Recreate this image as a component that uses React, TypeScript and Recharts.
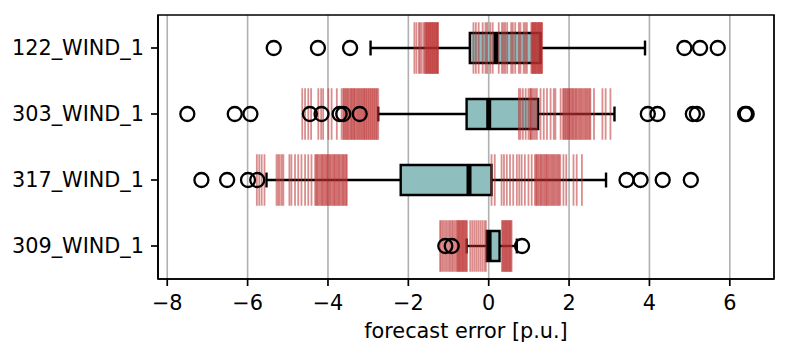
import { CartesianGrid, ReferenceArea, ReferenceLine, Scatter, ScatterChart, XAxis, YAxis } from "recharts"

const CATEGORIES = ["122_WIND_1", "303_WIND_1", "317_WIND_1", "309_WIND_1"]
const WHISKER_LO = [-2.94, -2.75, -5.53, -0.55]
const Q1 = [-0.47, -0.55, -2.19, -0.05]
const MEDIAN = [0.18, 0.0, -0.49, 0.01]
const Q3 = [1.29, 1.23, 0.07, 0.27]
const WHISKER_HI = [3.89, 3.13, 2.92, 0.7]

const OUTLIERS_122 = [-5.35, -4.25, -3.45, 4.87, 5.26, 5.7]
const OUTLIERS_303 = [-7.5, -6.32, -5.93, -4.45, -4.16, -3.71, -3.62, -3.21, 3.96, 4.2, 5.08, 5.18, 6.38, 6.42]
const OUTLIERS_317 = [-7.15, -6.51, -5.99, -5.76, 3.43, 3.78, 4.33, 5.03]
const OUTLIERS_309 = [-1.08, -0.92, 0.83]

const RUG_122 = [
  -1.85, -1.8, -1.74, -1.71, -1.67, -1.62, -1.59, -1.57, -1.55, -1.54, -1.52, -1.5, -1.49, -1.47, -1.45, -1.44,
  -1.42, -1.4, -1.39, -1.37, -1.35, -1.34, -1.32, -1.3, -1.29, -1.27, -1.26,
  -0.38, -0.32, -0.25, -0.15, -0.08, -0.04, 0.04, 0.1, 0.25, 0.33, 0.37, 0.41, 0.46, 0.56, 0.6, 0.66, 0.75, 0.79,
  0.87, 0.91, 0.95, 1.06, 1.08, 1.1, 1.11, 1.13, 1.15, 1.16, 1.18, 1.2, 1.22, 1.23, 1.25, 1.27, 1.28, 1.3, 1.32, 1.33,
]
const RUG_303 = [
  -4.64, -4.57, -4.49, -4.42, -4.24, -4.17, -4.12, -3.99, -3.91, -3.78, -3.66,
  -3.62, -3.6, -3.57, -3.55, -3.52, -3.5, -3.47, -3.44, -3.42, -3.4, -3.37, -3.35, -3.33, -3.3, -3.27, -3.25,
  -3.22, -3.2, -3.17, -3.15, -3.12, -3.1, -3.08, -3.05, -3.03, -3.0, -2.98, -2.95, -2.93, -2.9, -2.88, -2.85,
  -2.83, -2.8, -2.78, -2.75,
  0.75, 0.79, 0.85, 0.92, 0.99, 1.03, 1.05, 1.08, 1.12, 1.16, 1.2, 1.29, 1.37, 1.45, 1.54, 1.62, 1.66, 1.79,
  1.85, 1.87, 1.9, 1.92, 1.95, 1.97, 2.0, 2.02, 2.05, 2.08, 2.1, 2.13, 2.16, 2.18, 2.21, 2.24, 2.27, 2.3, 2.33,
  2.36, 2.39, 2.42, 2.45, 2.48, 2.51, 2.53, 2.62, 2.83, 2.91, 3.03,
]
const RUG_317 = [
  -5.77, -5.71, -5.65, -5.58, -5.28, -5.24, -5.2, -5.15, -5.11, -4.96, -4.91, -4.82, -4.74, -4.66, -4.57, -4.49,
  -4.41, -4.32, -4.29, -4.27, -4.24, -4.21, -4.18, -4.15, -4.13, -4.1, -4.07, -4.04, -4.02, -3.99, -3.96, -3.94,
  -3.91, -3.88, -3.85, -3.83, -3.8, -3.77, -3.74, -3.72, -3.69, -3.66, -3.63, -3.61, -3.58, -3.55, -3.53,
  0.07, 0.15, 0.32, 0.38, 0.45, 0.53, 0.61, 0.7, 0.76, 0.82, 0.9, 0.99, 1.07, 1.15, 1.18, 1.2, 1.23, 1.26, 1.29,
  1.31, 1.34, 1.37, 1.4, 1.43, 1.45, 1.48, 1.51, 1.54, 1.57, 1.6, 1.63, 1.66, 1.69, 1.72, 1.75, 1.78,
  1.86, 1.93, 2.11, 2.19, 2.32,
]
const RUG_309 = [
  -1.21, -1.18, -1.14, -1.1, -1.06, -1.02, -0.98, -0.95, -0.91, -0.88, -0.84, -0.8, -0.78, -0.76, -0.74, -0.72,
  -0.7, -0.68, -0.66, -0.64, -0.62, -0.6, -0.58, -0.56, -0.54, -0.46, -0.41, -0.36, -0.31, -0.26, -0.21, -0.16,
  -0.11, -0.07, 0.33, 0.35, 0.37, 0.39, 0.41, 0.43, 0.45, 0.47, 0.49, 0.51, 0.53, 0.55, 0.57,
]

const X_TICKS = [-8, -6, -4, -2, 0, 2, 4, 6]

const OUTLIERS = [OUTLIERS_122, OUTLIERS_303, OUTLIERS_317, OUTLIERS_309]
const RUGS = [RUG_122, RUG_303, RUG_317, RUG_309]

const outlierPoints = OUTLIERS.flatMap((vals, i) => vals.map((x) => ({ x, y: i + 1 })))

const FONT = "DejaVu Sans"
const BOX_FILL = "#8fbebe"
const RUG_COLOR = "#bb3030"
const BOX_HALF = 0.227
const CAP_HALF = 0.113
const RUG_HALF = 0.39
const LW = 2.4

const Ring = (props: any) => (
  <circle cx={props.cx} cy={props.cy} r={7} fill="none" stroke="#000" strokeWidth={2.3} />
)

const fmt = (v: number) => (v < 0 ? `\u2212${-v}` : `${v}`)

export default function App() {
  return (
    <div style={{ position: "absolute", left: 0, top: 0, background: "#fff", fontFamily: FONT }}>
      <ScatterChart width={789} height={357} margin={{ top: 15, right: 15, bottom: 0, left: 0 }}>
        <CartesianGrid horizontal={false} stroke="#b0b0b0" strokeWidth={1.6} />
        <XAxis
          type="number"
          dataKey="x"
          domain={[-8.23, 7.1]}
          ticks={X_TICKS}
          allowDataOverflow
          height={78}
          tickSize={7}
          tickMargin={9}
          tickFormatter={fmt}
          stroke="#000"
          strokeWidth={1.7}
          tick={{ fill: "#000", fontSize: 20.8, fontFamily: FONT }}
          label={{ value: "forecast error [p.u.]", position: "insideBottom", offset: 19, fill: "#000", fontSize: 20.8, fontFamily: FONT }}
        />
        <YAxis
          type="number"
          dataKey="y"
          domain={[0.5, 4.5]}
          reversed
          ticks={[1, 2, 3, 4]}
          tickFormatter={(v: number) => CATEGORIES[v - 1]}
          width={158}
          tickSize={7}
          tickMargin={7}
          stroke="#000"
          strokeWidth={1.7}
          tick={{ fill: "#000", fontSize: 20.8, fontFamily: FONT }}
        />
        {CATEGORIES.map((c, i) => (
          <ReferenceLine key={`wl-${c}`} segment={[{ x: WHISKER_LO[i], y: i + 1 }, { x: Q1[i], y: i + 1 }]} stroke="#000" strokeWidth={LW} />
        ))}
        {CATEGORIES.map((c, i) => (
          <ReferenceLine key={`wh-${c}`} segment={[{ x: Q3[i], y: i + 1 }, { x: WHISKER_HI[i], y: i + 1 }]} stroke="#000" strokeWidth={LW} />
        ))}
        {CATEGORIES.map((c, i) => (
          <ReferenceLine key={`cl-${c}`} segment={[{ x: WHISKER_LO[i], y: i + 1 - CAP_HALF }, { x: WHISKER_LO[i], y: i + 1 + CAP_HALF }]} stroke="#000" strokeWidth={LW} />
        ))}
        {CATEGORIES.map((c, i) => (
          <ReferenceLine key={`ch-${c}`} segment={[{ x: WHISKER_HI[i], y: i + 1 - CAP_HALF }, { x: WHISKER_HI[i], y: i + 1 + CAP_HALF }]} stroke="#000" strokeWidth={LW} />
        ))}
        {CATEGORIES.map((c, i) => (
          <ReferenceArea
            key={`box-${c}`}
            x1={Q1[i]}
            x2={Q3[i]}
            y1={i + 1 - BOX_HALF}
            y2={i + 1 + BOX_HALF}
            fill={BOX_FILL}
            fillOpacity={1}
            stroke="#000"
            strokeWidth={LW}
          />
        ))}
        {CATEGORIES.map((c, i) => (
          <ReferenceLine key={`med-${c}`} segment={[{ x: MEDIAN[i], y: i + 1 - BOX_HALF }, { x: MEDIAN[i], y: i + 1 + BOX_HALF }]} stroke="#000" strokeWidth={5} />
        ))}
        <Scatter data={outlierPoints} shape={Ring} isAnimationActive={false} />
        {RUGS.flatMap((vals, i) =>
          vals.map((v, j) => (
            <ReferenceLine
              key={`rug-${i}-${j}`}
              segment={[{ x: v, y: i + 1 - RUG_HALF }, { x: v, y: i + 1 + RUG_HALF }]}
              stroke={RUG_COLOR}
              strokeOpacity={0.55}
              strokeWidth={1.8}
            />
          ))
        )}
        <ReferenceArea x1={-8.23} x2={7.1} y1={0.5} y2={4.5} fill="none" stroke="#000" strokeWidth={1.7} />
      </ScatterChart>
    </div>
  )
}
